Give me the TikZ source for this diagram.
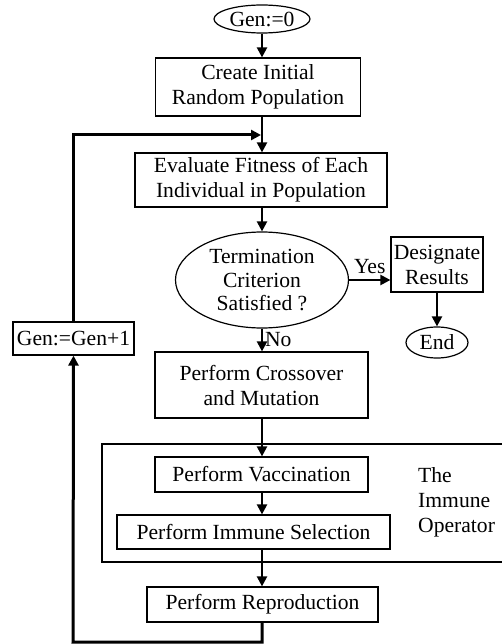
\documentclass[tikz,border=0pt]{standalone}
\usepackage{fontspec}
\setmainfont{Liberation Serif}
\usetikzlibrary{shapes.geometric,arrows.meta}
\begin{document}
\begin{tikzpicture}[x=1pt,y=-1pt,
  every node/.style={font=\fontsize{21.6}{25}\selectfont, inner sep=0pt, align=center},
  box/.style={draw, line width=1.2pt, rectangle},
  oval/.style={draw, line width=1.2pt, ellipse},
  arr/.style={line width=2.2pt, -{Triangle[width=10pt,length=10pt]}},
  fb/.style={line width=3pt},
  fbarr/.style={line width=3pt, -{Triangle[width=10pt,length=10pt]}}
]
\useasboundingbox (0,0) rectangle (502,644);

\node[oval, minimum width=96pt, minimum height=28pt] (gen0) at (262,19) {Gen:=0};
\node[box, minimum width=205pt, minimum height=58pt] (create) at (258,87) {Create Initial\\Random Population};
\node[box, minimum width=252pt, minimum height=54pt] (eval) at (261,180) {Evaluate Fitness of Each\\Individual in Population};
\node[oval, minimum width=173pt, minimum height=96pt, font=\fontsize{21.6}{23.5}\selectfont] (term) at (262,280) {Termination\\Criterion\\Satisfied ?};
\node[box, minimum width=92pt, minimum height=55pt] (desig) at (437,264.5) {Designate\\Results};
\node[oval, minimum width=62pt, minimum height=31pt] (end) at (437,342.5) {End};
\node[box, minimum width=121pt, minimum height=33pt] (genp) at (73.5,338.5) {Gen:=Gen+1};
\node[box, minimum width=213pt, minimum height=66pt] (cross) at (261.5,385) {Perform Crossover\\and Mutation};
\node[box, minimum width=400.5pt, minimum height=118pt] (immop) at (302.25,503) {};
\node[box, minimum width=213pt, minimum height=35pt] (vacc) at (261.5,474.5) {Perform Vaccination};
\node[box, minimum width=273pt, minimum height=34pt] (isel) at (253.5,532) {Perform Immune Selection};
\node[box, minimum width=231pt, minimum height=35pt] (repro) at (262.5,604.5) {Perform Reproduction};
\node[anchor=west, align=left] (immtxt) at (418,502) {The\\Immune\\Operator};

\coordinate (join) at (262,135);
\coordinate (bot) at (73,642);

\draw[arr] (gen0.south) -- (gen0.south |- create.north);
\draw[arr] (create.south -| join) -- (join |- eval.north);
\draw[arr] (eval.south -| join) -- (term.north);
\draw[arr] (term.east) -- (desig.west |- term.east) node[midway, above=5pt] (yes) {Yes};
\draw[arr] (desig.south) -- (end.north);
\draw[arr] (term.south) -- (term.south |- cross.north) node[midway, right=2pt] (no) {No};
\draw[arr] (cross.south -| join) -- (join |- vacc.north);
\draw[arr] (vacc.south -| join) -- (join |- isel.north);
\draw[arr] (isel.south -| join) -- (join |- repro.north);

\draw[fbarr] (repro.south -| join) |- (bot) -- (genp.south);
\draw[fbarr, shorten >=1pt] (genp.north) |- (join);
\end{tikzpicture}
\end{document}
